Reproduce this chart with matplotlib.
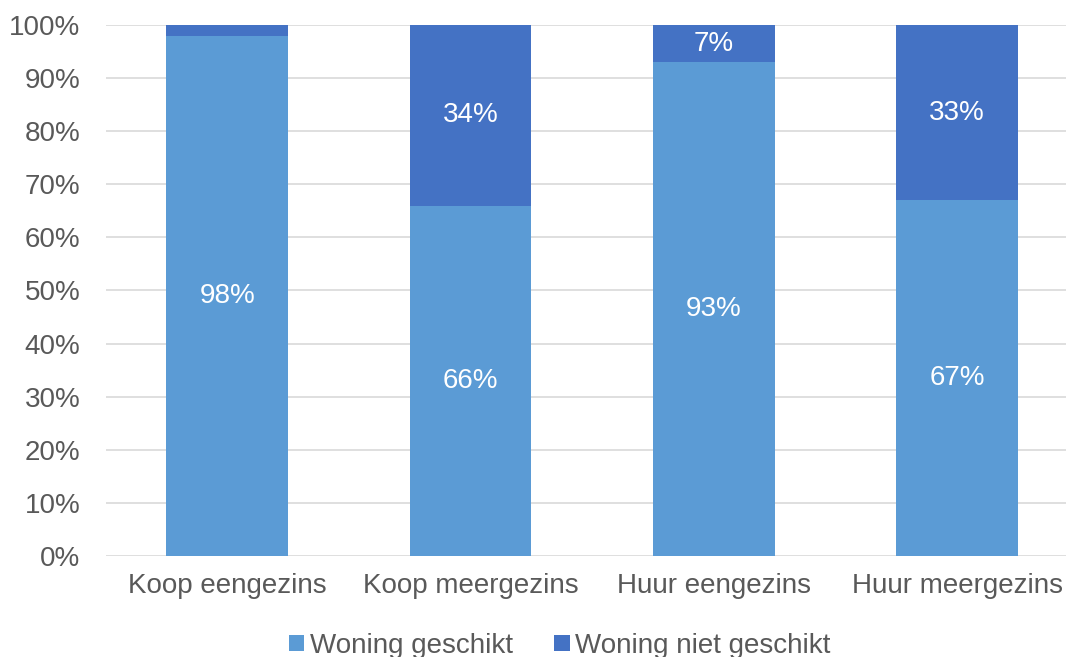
import numpy as np
import matplotlib.pyplot as plt

plt.rcParams['font.family'] = ['Liberation Sans', 'DejaVu Sans']

categories = ['Koop eengezins', 'Koop meergezins', 'Huur eengezins', 'Huur meergezins']
geschikt = [98, 66, 93, 67]
niet_geschikt = [2, 34, 7, 33]
show_label_niet = [False, True, True, True]

c_light = '#5B9BD5'
c_dark = '#4472C4'
grey = '#595959'
fs = 20

fig = plt.figure(figsize=(10.66, 6.57), dpi=100)
ax = fig.add_axes([0.099, 0.1537, 0.913, 0.8083])

x = np.arange(len(categories))
b1 = ax.bar(x, geschikt, width=0.5, color=c_light, label='Woning geschikt', zorder=3)
b2 = ax.bar(x, niet_geschikt, width=0.5, bottom=geschikt, color=c_dark,
            label='Woning niet geschikt', zorder=3)

# data labels in the middle of each segment
for i in range(len(categories)):
    ax.text(x[i], geschikt[i] / 2, f'{geschikt[i]}%', ha='center', va='center',
            color='white', fontsize=fs, zorder=4)
    if show_label_niet[i]:
        ax.text(x[i], geschikt[i] + niet_geschikt[i] / 2, f'{niet_geschikt[i]}%',
                ha='center', va='center', color='white', fontsize=fs, zorder=4)

ax.set_xlim(-0.5, len(categories) - 0.5)
ax.set_ylim(0, 100)
ax.set_yticks(np.arange(0, 101, 10))
ax.set_yticklabels([f'{v}%' for v in range(0, 101, 10)])
ax.set_xticks(x)
ax.set_xticklabels(categories)
ax.tick_params(length=0, labelsize=fs, colors=grey)
ax.tick_params(axis='y', pad=18)
ax.tick_params(axis='x', pad=12)
ax.yaxis.grid(True, color='#D9D9D9', linewidth=1.2, zorder=0)
ax.set_axisbelow(True)
for s in ax.spines.values():
    s.set_visible(False)

fig.legend(handles=[b1, b2], loc='center', bbox_to_anchor=(0.525, 0.017), ncol=2,
           frameon=False, fontsize=fs, labelcolor=grey, handlelength=0.55,
           handleheight=0.55, handletextpad=0.2, columnspacing=1.5)

fig.savefig('out.png', dpi=100)
